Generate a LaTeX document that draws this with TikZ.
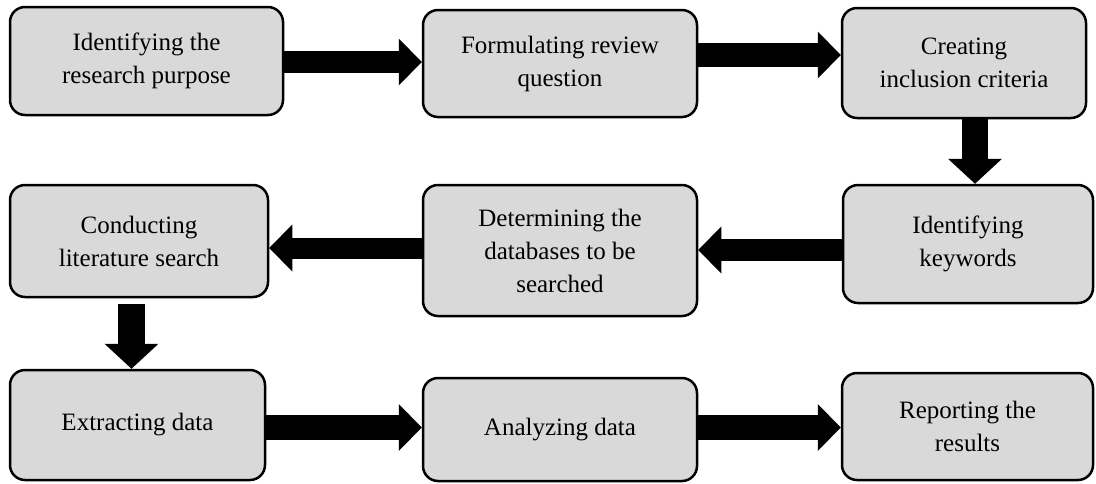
\documentclass[tikz,border=0pt]{standalone}
\usepackage{fontspec}
\setmainfont{Liberation Serif}
\usetikzlibrary{arrows.meta}
\definecolor{boxgray}{HTML}{D9D9D9}
\tikzset{
  stepbox/.style={draw=black, line width=2.5pt, fill=boxgray, rounded corners=15pt,
    align=center, inner sep=0pt, font=\fontsize{25}{33}\selectfont},
  blockarrow/.style={line width=#1, draw=black},
  harrow/.style={-{Triangle[length=23pt,width=47pt,line width=0pt]}},
  varrow/.style={-{Triangle[length=25pt,width=54pt,line width=0pt]}},
}
\begin{document}
\begin{tikzpicture}[x=1pt,y=-1pt]
\useasboundingbox (0,0) rectangle (1096,483);
\node[stepbox, minimum width=273pt, minimum height=108pt] (b1) at (146.5,61) {Identifying the\\research purpose};
\node[stepbox, minimum width=274pt, minimum height=107pt] (b2) at (560,63.5) {Formulating review\\question};
\node[stepbox, minimum width=244pt, minimum height=110pt] (b3) at (964,63) {Creating\\inclusion criteria};
\node[stepbox, minimum width=250pt, minimum height=118pt] (b6) at (968,244) {Identifying\\keywords};
\node[stepbox, minimum width=274pt, minimum height=131pt] (b5) at (560,250.5) {Determining the\\databases to be\\searched};
\node[stepbox, minimum width=258pt, minimum height=112pt] (b4) at (139,241) {Conducting\\literature search};
\node[stepbox, minimum width=255pt, minimum height=110pt] (b7) at (137.5,425) {Extracting data};
\node[stepbox, minimum width=274pt, minimum height=103pt] (b8) at (560,429.5) {Analyzing data};
\node[stepbox, minimum width=251pt, minimum height=107pt] (b9) at (967.5,426.5) {Reporting the\\results};

\coordinate (y1) at (0,62);
\coordinate (y2) at (0,55);
\coordinate (y4) at (0,250);
\coordinate (y5) at (0,248);
\coordinate (y7) at (0,427.5);
\coordinate (x3) at (975,0);
\coordinate (x6) at (131.5,0);

\draw[blockarrow=22pt, harrow] (b1.east |- y1) -- (b2.west |- y1);
\draw[blockarrow=24pt, harrow] (b2.east |- y2) -- (b3.west |- y2);
\draw[blockarrow=26pt, varrow] (x3 |- b3.south) -- (x3 |- b6.north);
\draw[blockarrow=22pt, harrow] (b6.west |- y4) -- (b5.east |- y4);
\draw[blockarrow=21pt, harrow] (b5.west |- y5) -- (b4.east |- y5);
\draw[blockarrow=27pt, varrow, shorten <=6pt] (x6 |- b4.south) -- (x6 |- b7.north);
\draw[blockarrow=25pt, harrow] (b7.east |- y7) -- (b8.west |- y7);
\draw[blockarrow=25pt, harrow] (b8.east |- y7) -- (b9.west |- y7);
\end{tikzpicture}
\end{document}
